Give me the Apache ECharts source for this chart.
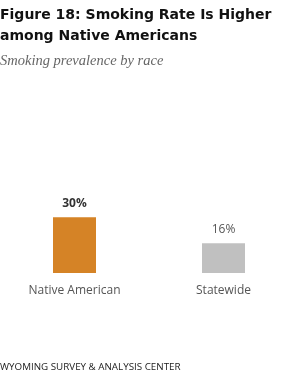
<!DOCTYPE html>
<html><head><meta charset="utf-8">
<script src="https://cdn.jsdelivr.net/npm/echarts@6/dist/echarts.min.js"></script>
<style>html,body{margin:0;padding:0;background:#fff}#c{width:300px;height:382px}</style>
</head><body><div id="c"></div>
<script>
var categories = ['Native American', 'Statewide'];
var values = [30, 16];
var barColors = ['#d58326', '#c0c0c0'];
var labelWeights = ['bold', 'normal'];

var chart = echarts.init(document.getElementById('c'), null, {renderer: 'canvas'});
chart.setOption({
  animation: false,
  title: [
    {text: 'Figure 18: Smoking Rate Is Higher\namong Native Americans', left: 0, top: 5, padding: 0,
     textStyle: {fontFamily: 'DejaVu Sans', fontWeight: 'bold', fontSize: 14, color: '#111', lineHeight: 21}},
    {text: 'Smoking prevalence by race', left: 0, top: 54, padding: 0,
     textStyle: {fontFamily: 'Liberation Serif', fontStyle: 'italic', fontWeight: 'normal', fontSize: 14.5, color: '#666'}},
    {text: 'WYOMING SURVEY & ANALYSIS CENTER', left: 0, top: 362, padding: 0,
     textStyle: {fontFamily: 'Open Sans', fontWeight: 'normal', fontSize: 9.8, color: '#222'}}
  ],
  grid: {left: 0, right: 2, top: 180, bottom: 109, containLabel: false},
  xAxis: {type: 'category', data: categories,
    axisLine: {show: false}, axisTick: {show: false},
    axisLabel: {fontFamily: 'Open Sans', fontSize: 12, color: '#555', margin: 12}},
  yAxis: {type: 'value', min: 0, max: 50, show: false, splitLine: {show: false}},
  series: [{
    type: 'bar', barWidth: 43,
    data: values.map(function (v, i) {
      return {value: v, itemStyle: {color: barColors[i]},
        label: {fontWeight: labelWeights[i], color: i === 0 ? '#333' : '#555'}};
    }),
    label: {show: true, position: 'top', distance: 8, fontFamily: 'Open Sans', fontSize: 12,
      formatter: function (p) { return p.value + '%'; }}
  }]
});
</script></body></html>
